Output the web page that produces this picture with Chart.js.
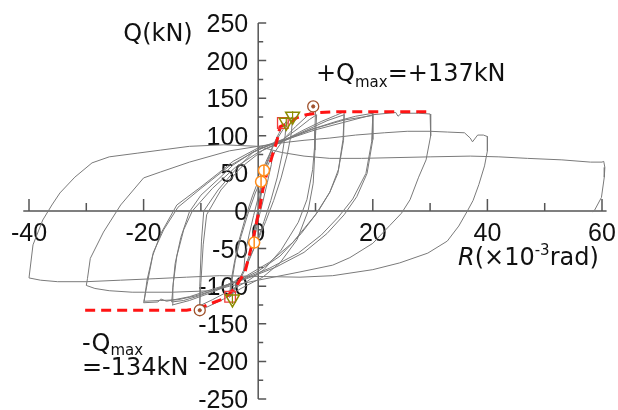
<!DOCTYPE html>
<html lang="en">
<head>
<meta charset="UTF-8">
<title>Q-R hysteresis</title>
<script src="https://cdn.jsdelivr.net/npm/chart.js"></script>
<style>
  body { margin: 0; background: #ffffff; }
  #wrap { width: 618px; height: 410px; }
</style>
</head>
<body>
<div id="wrap"><canvas id="qrChart" width="618" height="410"></canvas></div>
<script>
// storey drift R (x10^-3 rad) vs shear Q (kN), one array of [R, Q] per amplitude
const cycle2 = [[0,0],[0.3,18],[0.6,32],[1.0,45],[0.8,34],[0.3,12],[-0.2,-10],[-0.6,-28],[-1.0,-42],[-0.8,-30],[-0.3,-8],[0.2,12],[0.5,30],[1.0,50],[1.6,64],[2.5,80],[2.3,62],[1.6,38],[0.8,12],[0,-12],[-0.7,-38],[-1.5,-58],[-2.5,-78],[-2.3,-58],[-1.6,-32],[-0.8,-6],[0,18],[0.7,42]];
const cycle5 = [[1.4,62],[2.5,86],[3.6,103],[4.3,113],[4.9,119],[4.7,100],[4.2,76],[3.3,44],[2.2,14],[1,-14],[0,-36],[-1,-55],[-2.3,-78],[-3.6,-98],[-4.5,-110],[-5,-115],[-4.8,-96],[-4.2,-70],[-3.3,-38],[-2.2,-8],[-1,20],[0.2,44],[1.5,68],[3,92],[4.3,108],[5.2,118],[6,126],[5.8,104],[5.1,76],[4,44],[2.7,14],[1.3,-14],[0,-38],[-1.5,-62],[-3,-86],[-4.2,-104],[-4.8,-114],[-4.6,-94],[-4,-66],[-3,-34],[-1.8,-4],[-0.5,24]];
const cycle10 = [[1,50],[2.5,74],[4.5,96],[6.5,112],[8.5,126],[9.6,136],[10,134],[9.9,108],[9.9,81],[9.6,37],[8.7,0],[6.8,-38],[3.8,-69],[0.8,-88],[-3,-103],[-6,-117],[-9,-128],[-10.3,-133],[-10.2,-100],[-9.9,-40],[-9.5,0],[-7,28],[-4.3,52],[-0.9,78],[2,88],[4.5,96],[7,110],[9,122],[10.2,128],[10,100],[9.5,55],[8.5,15],[7,-15],[4,-52],[1,-78],[-2,-94],[-5,-106],[-8,-118],[-10.2,-126],[-10,-95],[-9.6,-45],[-9,-5],[-6.5,28],[-3,58],[1,82],[4.5,94]];
const cycle15 = [[8,108],[11,119],[13.5,127],[15,132],[14.9,94],[13.9,50],[12.5,25],[10.5,0],[7.5,-30],[3.8,-60],[0,-80],[-4,-95],[-8,-108],[-12,-119],[-15,-125],[-14.9,-102],[-14.5,-70],[-13.5,-35],[-12,-1],[-10,21],[-7,42],[-4.4,61],[-1,78],[2,88],[4.5,94],[8,106],[12,120],[15,128],[14.8,95],[14,55],[12.5,25],[10,-5],[6,-42],[2,-68],[-2,-86],[-6,-100],[-10,-112],[-13,-119],[-15.1,-121],[-14.8,-95],[-14.2,-60],[-13,-25],[-11.5,0],[-8,30],[-4,58],[0,78],[4.5,93]];
const cycle20 = [[9,108],[14,120],[17,126],[20,130],[20,95],[19,50],[17.2,19],[15,-5],[12,-30],[8,-55],[3,-75],[-2,-90],[-8,-104],[-12,-114],[-14,-117],[-16,-120],[-17,-117],[-17.5,-121],[-20,-122],[-19.3,-94],[-18.4,-59],[-17,-30],[-14.2,8],[-10,32],[-7,50],[-4.4,66],[0,84],[4.5,95],[10,110],[15,121],[20,127],[19.8,92],[18.8,50],[16.5,16],[14,-8],[11,-32],[7,-56],[2,-76],[-3,-92],[-8,-106],[-11,-113],[-14,-118],[-17,-119],[-19.9,-120],[-19.4,-92],[-18.3,-55],[-16.5,-25],[-14,5],[-10,30],[-5,60],[0,82],[4.5,94]];
const cycle30 = [[10,108],[15,118],[20,128],[24,131],[24.4,126],[25,130],[28,130],[30,129],[30.1,100],[29.3,68],[28,45],[26.5,15],[25,-3],[23,-19],[20,-43],[16,-62],[13,-72],[7.3,-81],[0,-92],[-5,-100],[-8,-106],[-15,-108],[-22,-108],[-26,-106],[-28.5,-103],[-30,-99],[-29.8,-90],[-29.3,-63],[-27,-28],[-24,8],[-20,44],[-17,52],[-12,65],[-5,80],[0,86],[4.5,91]];
const cycle40 = [[8,94],[12.5,97],[17,101],[22,104],[26,106],[30,106],[33,105],[36,104],[37,97],[37.4,92],[38.3,101],[39.3,101],[40,99],[40,80],[39.5,60],[38.5,35],[37.5,14],[36.5,0],[35,-20],[33,-40],[29.6,-56],[24.7,-69],[20,-78],[13,-86],[7.3,-88],[0,-87],[-6.7,-86],[-12.5,-88],[-18,-90],[-24,-92],[-30,-94],[-35,-94],[-38,-92],[-40,-89],[-39.3,-45],[-37.6,-12],[-36,8],[-34.6,24],[-32,45],[-29,64],[-26,72],[-21,77],[-17,81],[-12,86]];
const cycle60 = [[-6,88],[0,86],[4,78],[8,73],[12.5,70],[18,70],[30,72],[37,73],[42,72],[47,70],[53,68],[58,65],[60,65],[60.3,66],[60.5,58],[60.4,45],[59.9,18],[58.7,1],[58.4,-1]];

// skeleton (envelope) curve
const envR = [-30.2,-12.5,-10.2,-7.9,-5.8,-4,-2.3,-1.1,-0.2,0.3,0.8,1.5,2.4,3.3,3.8,4.3,5.5,6.7,8.4,10.8,13,30];
const envQ = [-132,-132,-129,-122,-116,-102,-81,-45,-12,5,28,50,72,94,112,114,117,124,128,131,132,132];

// marked events
const crackR = [1.0, 0.5, -0.7];
const crackQ = [54, 39, -42];
const yieldR = [4.3, -4.9];
const yieldQ = [117, -114];
const triR = [4.9, 6.0, -4.5];
const triQ = [118, 126, -117];
const maxR = [9.6, -10.2];
const maxQ = [139, -132];

// axes
const xTicks = [-40, -30, -20, -10, 0, 10, 20, 30, 40, 50, 60];
const xLabels = [-40, -20, 0, 20, 40, 60];
const yTicks = [250, 225, 200, 175, 150, 125, 100, 75, 50, 25, -25, -50, -75, -100, -125, -150, -175, -200, -225, -250];
const yLabels = [250, 200, 150, 100, 50, 0, -50, -100, -150, -200, -250];

const toXY = pts => pts.map(p => ({ x: p[0], y: p[1] }));
const zipXY = (xs, ys) => xs.map((v, i) => ({ x: v, y: ys[i] }));

const cycles = [cycle2, cycle5, cycle10, cycle15, cycle20, cycle30, cycle40, cycle60];
const loopSets = cycles.map((c, i) => ({
    data: toXY(i === 0 ? c : [cycles[i - 1][cycles[i - 1].length - 1], ...c]),
    showLine: true,
    borderColor: '#7a7a7a',
    borderWidth: 1,
    pointRadius: 0,
    clip: false,
    order: 4
}));

// lower order is painted later (on top)
const markerBase = { showLine: false, clip: false, pointHoverRadius: 0 };

const axesPlugin = {
    id: 'axesPlugin',
    beforeDatasetsDraw(chart) {
        const { ctx } = chart;
        const xs = chart.scales.x, ys = chart.scales.y;
        const x0 = xs.getPixelForValue(0), y0 = ys.getPixelForValue(0);
        ctx.save();
        ctx.strokeStyle = '#555555';
        ctx.lineWidth = 1.5;
        ctx.beginPath();
        ctx.moveTo(xs.getPixelForValue(-41), y0);
        ctx.lineTo(xs.getPixelForValue(60.8), y0);
        ctx.moveTo(x0, ys.getPixelForValue(250));
        ctx.lineTo(x0, ys.getPixelForValue(-250));
        xTicks.forEach(v => {
            const px = xs.getPixelForValue(v);
            const len = v % 20 === 0 ? 12 : 8;
            ctx.moveTo(px, y0);
            ctx.lineTo(px, y0 - len);
        });
        yTicks.forEach(v => {
            const py = ys.getPixelForValue(v);
            const len = v % 50 === 0 ? 8 : 5;
            ctx.moveTo(x0, py);
            ctx.lineTo(x0 + len, py);
        });
        ctx.stroke();

        ctx.fillStyle = '#111111';
        ctx.font = '25px "Liberation Sans", Arial, sans-serif';
        ctx.textAlign = 'right';
        yLabels.forEach(v => ctx.fillText(String(v), x0 - 10, ys.getPixelForValue(v) + 9));
        ctx.textAlign = 'center';
        xLabels.forEach(v => ctx.fillText(String(v), xs.getPixelForValue(v), y0 + 30));
        ctx.restore();
    },
    afterDatasetsDraw(chart) {
        const { ctx } = chart;
        const big = '24px "DejaVu Sans", sans-serif';
        const small = '15px "DejaVu Sans", sans-serif';
        const runs = (x, y, parts) => {
            parts.forEach(p => {
                ctx.font = p[1];
                ctx.fillText(p[0], x, y + (p[2] || 0));
                x += ctx.measureText(p[0]).width;
            });
        };
        ctx.save();
        ctx.fillStyle = '#111111';
        ctx.font = big;
        ctx.textAlign = 'center';
        ctx.fillText('Q(kN)', 158, 41);
        ctx.textAlign = 'left';
        runs(316, 81, [['+Q', big], ['max', small, 6], ['=+137kN', big]]);
        runs(82, 351, [['-Q', big], ['max', small, 4]]);
        runs(82, 375, [['=-134kN', big]]);
        runs(458, 265, [['R', 'italic ' + big], ['(\u00D710', big], ['-3', small, -10], ['rad)', big]]);
        ctx.restore();
    }
};

new Chart(document.getElementById('qrChart'), {
    type: 'scatter',
    data: {
        datasets: [
            ...loopSets,
            {
                data: zipXY(envR, envQ),
                showLine: true,
                borderColor: '#ff1414',
                borderWidth: 3,
                borderDash: [10, 6],
                pointRadius: 0,
                clip: false,
                order: 3
            },
            { ...markerBase, order: 2, data: zipXY(crackR, crackQ), pointStyle: 'circle', pointRadius: 5.5,
              borderColor: '#ff8c1a', backgroundColor: '#ffffff', borderWidth: 1.5 },
            { ...markerBase, order: 1, data: zipXY(crackR, crackQ), pointStyle: 'line', rotation: 90, pointRadius: 5.5,
              borderColor: '#ff8c1a', borderWidth: 1.5 },
            { ...markerBase, order: 2, data: zipXY(yieldR, yieldQ), pointStyle: 'rect', pointRadius: 7.5,
              borderColor: '#f03c3c', backgroundColor: 'rgba(255,255,255,0)', borderWidth: 1.3 },
            { ...markerBase, order: 1, data: zipXY(triR, triQ), pointStyle: 'triangle', rotation: 180, pointRadius: 8,
              borderColor: '#8c8c00', backgroundColor: 'rgba(255,255,255,0)', borderWidth: 1.5 },
            { ...markerBase, order: 1, data: zipXY(triR, triQ), pointStyle: 'line', rotation: 90, pointRadius: 5,
              borderColor: '#8c8c00', borderWidth: 1.2 },
            { ...markerBase, order: 2, data: zipXY(maxR, maxQ), pointStyle: 'circle', pointRadius: 5.5,
              borderColor: '#a0522d', backgroundColor: '#ffffff', borderWidth: 1.3 },
            { ...markerBase, order: 0, data: zipXY(maxR, maxQ), pointStyle: 'circle', pointRadius: 1.6,
              borderColor: '#a0522d', backgroundColor: '#a0522d', borderWidth: 1 }
        ]
    },
    options: {
        responsive: false,
        animation: false,
        layout: { padding: { left: 29, right: 16, top: 23, bottom: 11 } },
        plugins: { legend: { display: false }, tooltip: { enabled: false } },
        scales: {
            x: { type: 'linear', min: -40, max: 60, display: false },
            y: { type: 'linear', min: -250, max: 250, display: false }
        }
    },
    plugins: [axesPlugin]
});
</script>
</body>
</html>
